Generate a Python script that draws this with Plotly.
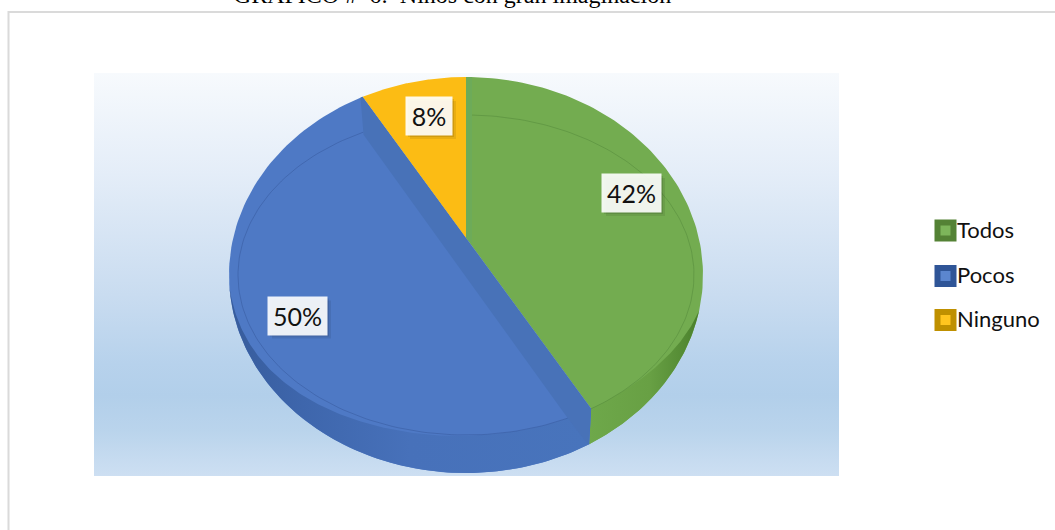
import math
import numpy as np
import plotly.graph_objects as go

# ---- data ----
categories = ["Todos", "Pocos", "Ninguno"]
values = [42, 50, 8]
title_text = "GRAFICO #  6:  Niños con gran imaginación"

# ---- style ----
top_colors = ["#73AC50", "#4E79C5", "#FCBC14"]
rim_colors = ["rgba(70,120,50,0.35)", "rgba(50,85,150,0.45)"]
swatch_edge = ["#548235", "#2F5597", "#BF9000"]
swatch_fill = ["#7DB55A", "#5B86CF", "#FFC51F"]
legend_y = [230.5, 276, 320]
label_pos = [(631.5, 193), (297.5, 315.5), (429, 116)]
label_w = [59, 59, 46]
label_h = 38

W, H = 1055, 530
CX, CY = 466, 275        # ellipses centre
OUT = (237, 198)         # silhouette
INN = (228, 160)         # top-face rim
VX, VY = 466, 238        # apex of the slices
FORE = 177.0 / 236.0     # foreshortening of the tilted disc


def direction(frac):
    t = 2 * math.pi * frac
    return math.sin(t), -FORE * math.cos(t)


def hit(frac, ell):
    dx, dy = direction(frac)
    rx, ry = ell
    ox, oy = VX - CX, VY - CY
    A = (dx / rx) ** 2 + (dy / ry) ** 2
    B = 2 * (ox * dx / rx ** 2 + oy * dy / ry ** 2)
    C = (ox / rx) ** 2 + (oy / ry) ** 2 - 1
    s = (-B + math.sqrt(B * B - 4 * A * C)) / (2 * A)
    return VX + s * dx, VY + s * dy


def phi(p, ell):
    # clockwise angle on screen, 0 = rightmost point
    return math.atan2((p[1] - CY) / ell[1], (p[0] - CX) / ell[0])


def arc(p0, p1, ell, n=120):
    a0, a1 = phi(p0, ell), phi(p1, ell)
    while a1 < a0:
        a1 += 2 * math.pi
    a = np.linspace(a0, a1, n)
    return list(CX + ell[0] * np.cos(a)), list(CY + ell[1] * np.sin(a))


def wall(phi_q_in, phi_q_out, phi_end, n=140):
    """Front wall: outer arc, and an upper edge that follows the rim then merges into the silhouette."""
    s = np.linspace(0, 1, n)
    a_out = phi_q_out + (phi_end - phi_q_out) * s
    a_in = phi_q_in + (phi_end - phi_q_in) * s
    w = s ** 3
    ux = (1 - w) * (CX + INN[0] * np.cos(a_in)) + w * (CX + OUT[0] * np.cos(a_in))
    uy = (1 - w) * (CY + INN[1] * np.sin(a_in)) + w * (CY + OUT[1] * np.sin(a_in))
    ox = CX + OUT[0] * np.cos(a_out)
    oy = CY + OUT[1] * np.sin(a_out)
    return list(ox) + list(ux[::-1]), list(oy) + list(uy[::-1])


total = sum(values)
f1 = values[0] / total
f2 = (values[0] + values[1]) / total

TOP = hit(0, OUT)
P = hit(f2, OUT)
Q = hit(f1, INN)
qx = Q[0] - 2
Q2 = (qx, CY + OUT[1] * math.sqrt(1 - ((qx - CX) / OUT[0]) ** 2))

fig = go.Figure()


def poly(xs, ys, color=None, grad=None, name=""):
    kw = dict(fillgradient=grad) if grad else dict(fillcolor=color)
    fig.add_trace(go.Scatter(x=xs, y=ys, mode="lines", fill="toself", name=name,
                             line=dict(width=0), hoverinfo="skip", showlegend=False, **kw))


# backdrop gradient
poly([94, 839, 839, 94, 94], [73, 73, 476, 476, 73], name="fondo",
     grad=dict(type="vertical", colorscale=[[0, "#CDDFF2"], [0.11, "#BAD4EC"], [0.2, "#B2CFEA"], [0.28, "#B7D2EC"],
                                            [0.45, "#C9DCF0"], [0.75, "#E4EDF8"], [1, "#F7FAFD"]]))

# top faces / whole silhouette per slice
ax, ay = arc(TOP, Q2, OUT)
poly([VX] + ax + [Q[0], VX], [VY] + ay + [Q[1], VY], top_colors[0], name=categories[0])
ax, ay = arc(Q2, P, OUT)
poly([VX, Q[0]] + ax + [VX], [VY, Q[1]] + ay + [VY], top_colors[1], name=categories[1])
ax, ay = arc(P, TOP, OUT)
poly([VX] + ax + [VX], [VY] + ay + [VY], top_colors[2], name=categories[2])

# front wall, green (merges into the silhouette on the right)
wx, wy = wall(phi(Q, INN), phi(Q2, OUT), 0.18)
poly(wx, wy, name=categories[0],
     grad=dict(type="horizontal", colorscale=[[0, "#6EA84A"], [0.55, "#68A044"], [0.85, "#558C35"], [1, "#4A7F2C"]]))
# front wall, blue (merges into the silhouette on the left)
wx, wy = wall(phi(Q, INN), phi(Q2, OUT), math.pi - 0.06)
poly(wx, wy, name=categories[1],
     grad=dict(type="horizontal", colorscale=[[0, "#375C9C"], [0.2, "#3E66AC"], [0.5, "#4771BA"], [1, "#4874BC"]]))

# dark cut band on the blue slice
poly([P[0], P[0] - 2, P[0] + 1, Q[0] - 23, Q2[0] - 3, Q2[0], Q[0], P[0]],
     [P[1], P[1] + 1, P[1] + 38, Q[1] + 10, Q2[1] - 2, Q2[1], Q[1], P[1]], "#4872B8", name="corte")
# pale strip beside the vertical cut
poly([VX, VX + 6, VX + 6, VX], [TOP[1], TOP[1], VY + 6, VY], "#6DAB59", name="corte")

# rim lines
rx, ry = arc((VX + 6, CY - INN[1]), Q, INN)
fig.add_trace(go.Scatter(x=rx, y=ry, mode="lines", line=dict(width=1, color=rim_colors[0]),
                         hoverinfo="skip", showlegend=False))
rx, ry = arc((Q[0] - 23, Q[1] + 10), (CX - 103, CY - 143), INN)
fig.add_trace(go.Scatter(x=rx, y=ry, mode="lines", line=dict(width=1, color=rim_colors[1]),
                         hoverinfo="skip", showlegend=False))

# legend drawn at the reference's tight spacing
for c, y, e, f in zip(categories, legend_y, swatch_edge, swatch_fill):
    fig.add_trace(go.Scatter(x=[945.5], y=[y], mode="markers", name=c, hoverinfo="skip", showlegend=False,
                             marker=dict(symbol="square", size=16, color=f, line=dict(width=6, color=e))))
    fig.add_trace(go.Scatter(x=[957], y=[y + 1.5], mode="text", text=[c], textposition="middle right", name=c,
                             hoverinfo="skip", showlegend=False,
                             textfont=dict(family="Lato", size=22, color="#111111")))

shapes = [dict(type="rect", xref="x", yref="y", x0=8.5, y0=12, x1=1070, y1=545,
               line=dict(color="#DADADA", width=2), layer="below")]
annots = []
for v, (x, y), w in zip(values, label_pos, label_w):
    for off, alpha in ((2, 0.10), (4, 0.08)):
        shapes.append(dict(type="rect", xref="x", yref="y", x0=x - w / 2 + off, x1=x + w / 2 + off,
                           y0=y - label_h / 2 + off, y1=y + label_h / 2 + off,
                           fillcolor=f"rgba(0,0,0,{alpha})", line=dict(width=0)))
    annots.append(dict(x=x, y=y, xref="x", yref="y", text=f"{v}%", showarrow=False, width=w, height=label_h,
                       bgcolor="rgba(255,255,255,0.9)", borderpad=0, align="center", valign="middle",
                       font=dict(family="Lato", size=25, color="#111111")))

fig.update_layout(
    width=W, height=H, margin=dict(l=0, r=0, t=0, b=0), showlegend=False,
    paper_bgcolor="white", plot_bgcolor="white",
    title=dict(text=title_text, x=452.5 / W, xanchor="center", y=1 - 3 / H, yanchor="bottom", yref="container",
               font=dict(family="Liberation Serif", size=24, color="#000000")),
    xaxis=dict(range=[0, W], visible=False, fixedrange=True),
    yaxis=dict(range=[H, 0], visible=False, fixedrange=True),
    shapes=shapes, annotations=annots,
)
fig.write_html("out.html", config=dict(displayModeBar=False),
               post_script="document.body.style.margin='0';document.documentElement.style.overflow='hidden';")
